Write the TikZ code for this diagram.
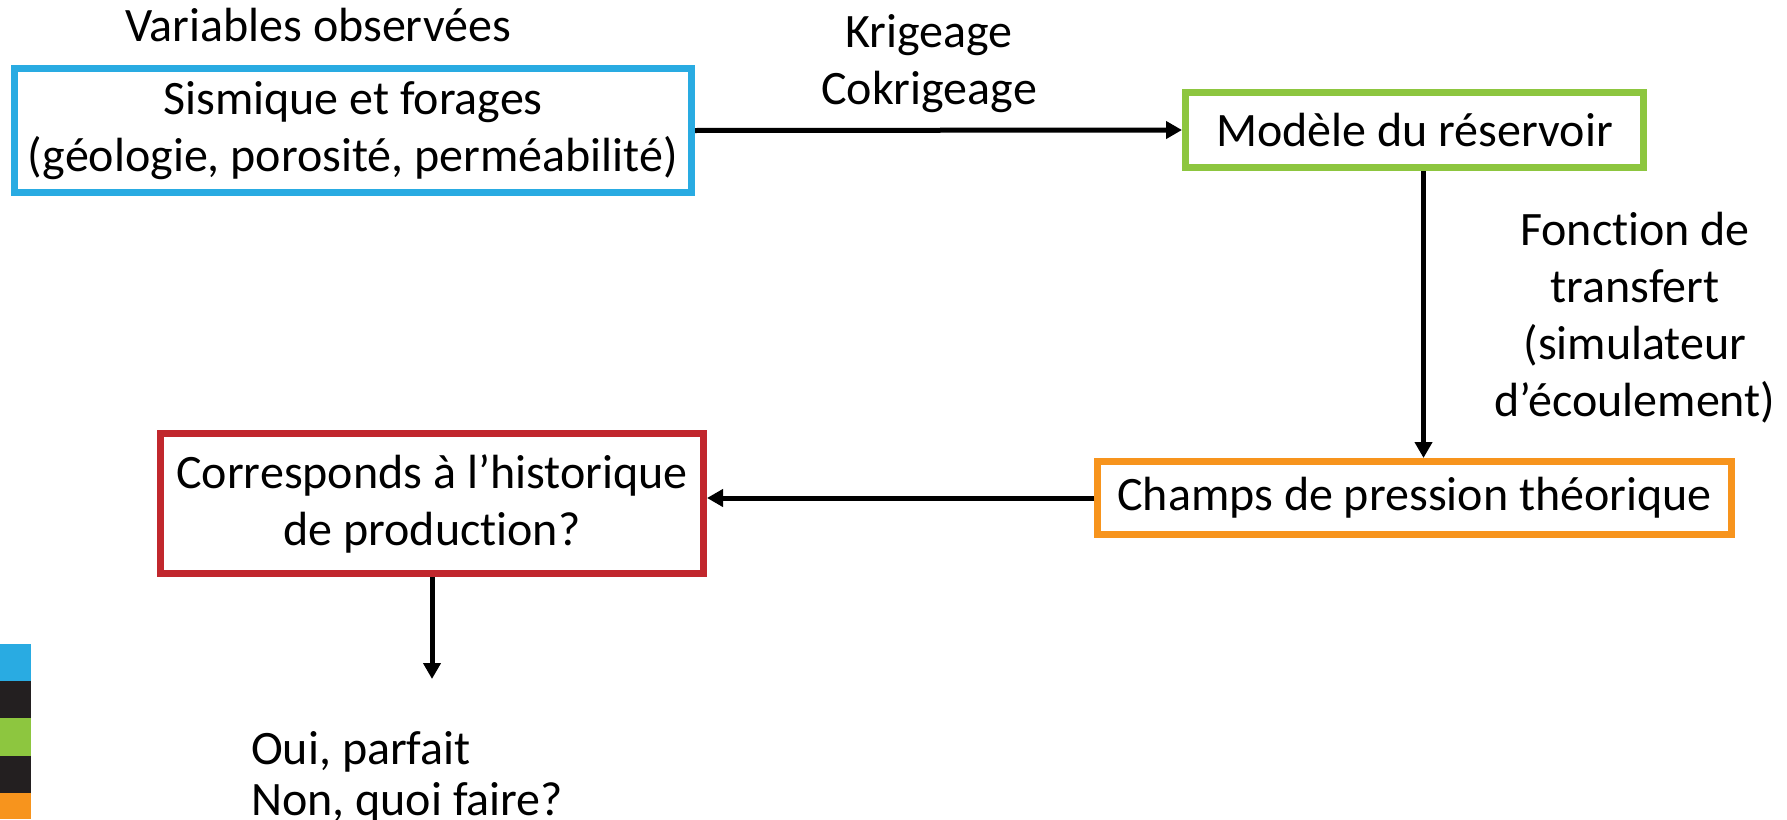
\documentclass[tikz,border=0pt]{standalone}
\usepackage{fontspec}
\setmainfont{Carlito}[Ligatures=NoCommon]
\usepackage{tikz}
\usetikzlibrary{arrows.meta,positioning,calc}
\definecolor{myblue}{HTML}{29ABE2}
\definecolor{mygreen}{HTML}{8DC63F}
\definecolor{myorange}{HTML}{F7941D}
\definecolor{myred}{HTML}{C1272D}
\definecolor{myblack}{HTML}{231F20}
\tikzset{
  stageBox/.style={draw=#1,line width=7pt,inner sep=0pt,align=center},
  flowArrow/.style={draw=black,line width=5pt,-{Triangle[length=16pt,width=17pt]}},
  plainText/.style={inner sep=0pt,align=center},
}

\begin{document}
\begin{tikzpicture}[x=1pt,y=-1pt,font=\fontsize{48}{57}\selectfont]
  \useasboundingbox (0,0) rectangle (1787,819);

  % colour strip
  \foreach \col/\ya/\yb in {myblue/644/681,myblack/681/718,mygreen/718/756,myblack/756/793,myorange/793/819}
    \fill[\col] (0,\ya) rectangle (31,\yb);

  \node[plainText] at (318,25) (obs) {Variables observées};
  \node[stageBox=myblue,minimum width=677pt,minimum height=124pt] at (353,130.5) (sismique)
    {Sismique et forages\\(géologie, porosité, perméabilité)};
  \node[stageBox=mygreen,minimum width=458pt,minimum height=75pt] at (1414.5,130) (modele)
    {Modèle du réservoir};
  \node[stageBox=myorange,minimum width=634pt,minimum height=73pt] at (1414.5,498) (champs)
    {Champs de pression théorique};
  \node[stageBox=myred,minimum width=543pt,minimum height=140pt] at (432,503.5) (corresp)
    {Corresponds à l’historique\\de production?};

  \node[plainText] at (929,64) (krig) {Krigeage\\Cokrigeage};
  \node[plainText] at (1635,318) (transf) {Fonction de\\transfert\\(simulateur\\d’écoulement)};
  \node[plainText,align=left,anchor=west,font=\fontsize{48}{51}\selectfont] at (251,777) (reponse)
    {Oui, parfait\\Non, quoi faire?};

  \coordinate (fin) at (433,679);

  \path[flowArrow] (sismique.east) -- (modele.west);
  \path[flowArrow] ([xshift=9pt]modele.south) -- ([xshift=9pt]modele.south |- champs.north);
  \path[flowArrow] (champs.west) -- (champs.west -| corresp.east);
  \path[flowArrow] (corresp.south) -- (corresp.south |- fin);
\end{tikzpicture}
\end{document}
